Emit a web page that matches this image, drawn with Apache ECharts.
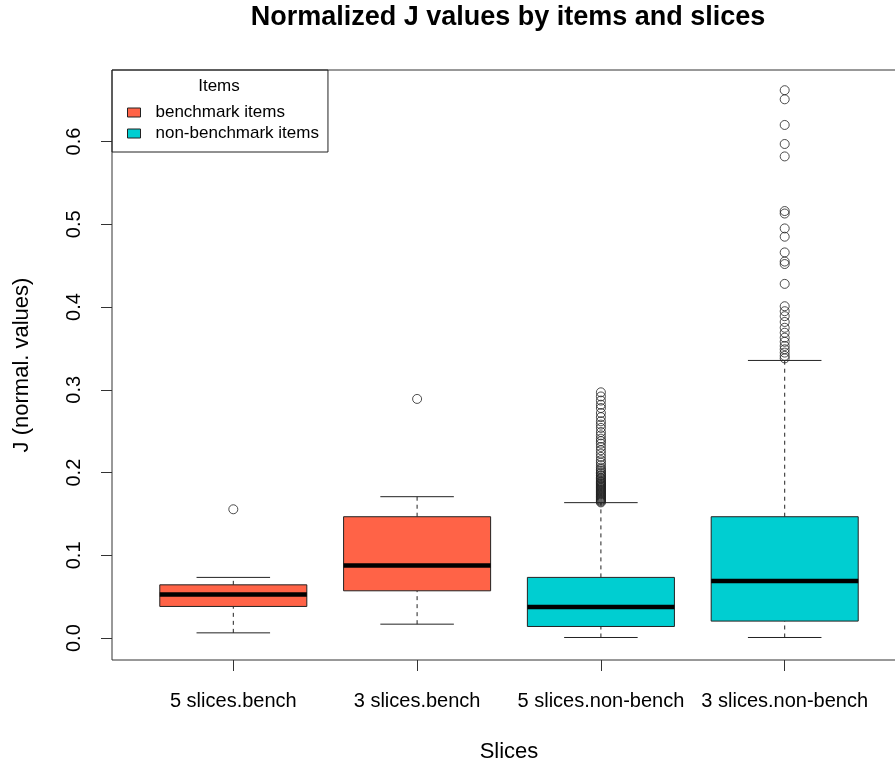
<!DOCTYPE html>
<html>
<head>
<meta charset="utf-8">
<title>Normalized J values by items and slices</title>
<script src="https://cdn.jsdelivr.net/npm/echarts@6/dist/echarts.min.js"></script>
<style>
  html, body { margin: 0; padding: 0; background: #fff; }
  #chart { width: 895px; height: 766px; }
</style>
</head>
<body>
<div id="chart"></div>
<script>
// Slice groups along the x axis
const categories = ['5 slices.bench', '3 slices.bench', '5 slices.non-bench', '3 slices.non-bench'];
const yTicks = [0, 0.1, 0.2, 0.3, 0.4, 0.5, 0.6];

// Box statistics: [lower whisker, Q1, median, Q3, upper whisker]
const benchStats = [
  [0.0064, 0.0383, 0.0528, 0.0644, 0.0734],
  [0.0169, 0.0572, 0.0879, 0.1467, 0.1709]
];
const nonBenchStats = [
  [0.0008, 0.0141, 0.0375, 0.0734, 0.1637],
  [0.0008, 0.0206, 0.0690, 0.1467, 0.3355]
];

// Outlying observations per slice group
const outliers5Bench = [0.1557];
const outliers3Bench = [0.289];
const outliers5NonBench = [
  0.297, 0.292, 0.287, 0.282, 0.278, 0.272, 0.267, 0.262, 0.258, 0.254,
  0.249, 0.245, 0.241, 0.238, 0.235, 0.231, 0.227, 0.223, 0.219, 0.215,
  0.212, 0.209, 0.206, 0.204, 0.202, 0.200, 0.199, 0.197, 0.196, 0.194,
  0.193, 0.192, 0.190, 0.189, 0.188, 0.187, 0.186, 0.185, 0.184, 0.183,
  0.182, 0.181, 0.180, 0.179, 0.178, 0.177, 0.176, 0.175, 0.174, 0.173,
  0.172, 0.171, 0.170, 0.169, 0.168, 0.167, 0.166, 0.165, 0.164
];
const outliers3NonBench = [
  0.662, 0.651, 0.620, 0.597, 0.582, 0.516, 0.513, 0.495, 0.485, 0.466,
  0.455, 0.452, 0.428, 0.401, 0.395, 0.389, 0.382, 0.375, 0.369, 0.363,
  0.358, 0.353, 0.349, 0.345, 0.341, 0.338
];

const seriesNames = ['benchmark items', 'non-benchmark items'];
const seriesColors = ['#FF6347', '#00CED1'];

const FONT = '"Liberation Sans", Arial, sans-serif';

const benchData = benchStats.map((s, i) => [i + 1].concat(s));
const nonBenchData = nonBenchStats.map((s, i) => [i + 3].concat(s));
const outlierData = [outliers5Bench, outliers3Bench, outliers5NonBench, outliers3NonBench]
  .flatMap((vals, i) => vals.map(v => [i + 1, v]));

// Draws an R-style box: dashed whiskers, solid staples, filled box, thick median
function renderBox(params, api) {
  const x = api.value(0);
  const lo = api.value(1), q1 = api.value(2), med = api.value(3), q3 = api.value(4), hi = api.value(5);
  const band = api.size([1, 0])[0];
  const half = band * 0.4;
  const capHalf = band * 0.2;
  const pLo = api.coord([x, lo]);
  const pQ1 = api.coord([x, q1]);
  const pMed = api.coord([x, med]);
  const pQ3 = api.coord([x, q3]);
  const pHi = api.coord([x, hi]);
  const cx = pLo[0];
  const lineCol = '#222';
  return {
    type: 'group',
    children: [
      { type: 'line', shape: { x1: cx, y1: pQ3[1], x2: cx, y2: pHi[1] },
        style: { stroke: lineCol, lineWidth: 1, lineDash: [4, 4] } },
      { type: 'line', shape: { x1: cx, y1: pLo[1], x2: cx, y2: pQ1[1] },
        style: { stroke: lineCol, lineWidth: 1, lineDash: [4, 4] } },
      { type: 'line', shape: { x1: cx - capHalf, y1: pHi[1], x2: cx + capHalf, y2: pHi[1] },
        style: { stroke: lineCol, lineWidth: 1 } },
      { type: 'line', shape: { x1: cx - capHalf, y1: pLo[1], x2: cx + capHalf, y2: pLo[1] },
        style: { stroke: lineCol, lineWidth: 1 } },
      { type: 'rect', shape: { x: cx - half, y: pQ3[1], width: half * 2, height: pQ1[1] - pQ3[1] },
        style: { fill: api.visual('color'), stroke: lineCol, lineWidth: 1 } },
      { type: 'line', shape: { x1: cx - half, y1: pMed[1], x2: cx + half, y2: pMed[1] },
        style: { stroke: '#000', lineWidth: 4.5 } }
    ]
  };
}

const chart = echarts.init(document.getElementById('chart'), null, { renderer: 'canvas' });

chart.setOption({
  backgroundColor: '#fff',
  animation: false,
  textStyle: { fontFamily: FONT },
  title: [
    {
      text: 'Normalized J values by items and slices',
      left: 508, top: 4, padding: 0, textAlign: 'center',
      textStyle: { fontFamily: FONT, fontSize: 27, fontWeight: 'bold', color: '#000' }
    },
    {
      text: 'Items',
      left: 219, top: 78, padding: 0, textAlign: 'center',
      textStyle: { fontFamily: FONT, fontSize: 17, fontWeight: 'normal', color: '#000' }
    }
  ],
  legend: {
    data: seriesNames,
    orient: 'vertical',
    left: 112, top: 70,
    padding: [34, 9, 10, 15],
    itemGap: 4,
    itemWidth: 13,
    itemHeight: 9,
    icon: 'rect',
    borderColor: '#222',
    borderWidth: 1,
    selectedMode: false,
    itemStyle: { borderColor: '#222', borderWidth: 1 },
    textStyle: { fontFamily: FONT, fontSize: 17, color: '#000', padding: [0, 0, 0, 10] }
  },
  grid: {
    left: 112, top: 70, width: 794, height: 590,
    outerBoundsMode: 'none',
    containLabel: false,
    show: true, borderColor: '#333', borderWidth: 1, backgroundColor: 'transparent'
  },
  xAxis: {
    type: 'value',
    min: 0.34, max: 4.66,
    name: 'Slices',
    nameLocation: 'middle',
    nameGap: 81,
    nameTextStyle: { fontFamily: FONT, fontSize: 22, color: '#000' },
    axisLine: { show: false, onZero: false },
    splitLine: { show: false },
    axisTick: { show: true, length: 11, lineStyle: { color: '#333' }, customValues: [1, 2, 3, 4] },
    axisLabel: {
      customValues: [1, 2, 3, 4],
      margin: 31,
      fontFamily: FONT, fontSize: 20, color: '#000',
      formatter: v => categories[Math.round(v) - 1] || ''
    }
  },
  yAxis: {
    type: 'value',
    min: -0.0264, max: 0.6864,
    name: 'J (normal. values)',
    nameLocation: 'middle',
    nameRotate: 90,
    nameGap: 79,
    nameTextStyle: { fontFamily: FONT, fontSize: 22, color: '#000' },
    axisLine: { show: false, onZero: false },
    splitLine: { show: false },
    axisTick: { show: true, length: 11, lineStyle: { color: '#333' }, customValues: yTicks },
    axisLabel: {
      customValues: yTicks,
      rotate: 90,
      margin: 28,
      fontFamily: FONT, fontSize: 20, color: '#000',
      formatter: v => v.toFixed(1)
    }
  },
  series: [
    {
      name: seriesNames[0],
      type: 'custom',
      renderItem: renderBox,
      itemStyle: { color: seriesColors[0] },
      encode: { x: 0, y: [1, 2, 3, 4, 5] },
      data: benchData,
      z: 2
    },
    {
      name: seriesNames[1],
      type: 'custom',
      renderItem: renderBox,
      itemStyle: { color: seriesColors[1] },
      encode: { x: 0, y: [1, 2, 3, 4, 5] },
      data: nonBenchData,
      z: 2
    },
    {
      name: 'outliers',
      type: 'scatter',
      symbol: 'circle',
      symbolSize: 9,
      itemStyle: { color: 'rgba(0,0,0,0)', borderColor: '#222', borderWidth: 1 },
      data: outlierData,
      z: 3
    }
  ]
});
</script>
</body>
</html>
